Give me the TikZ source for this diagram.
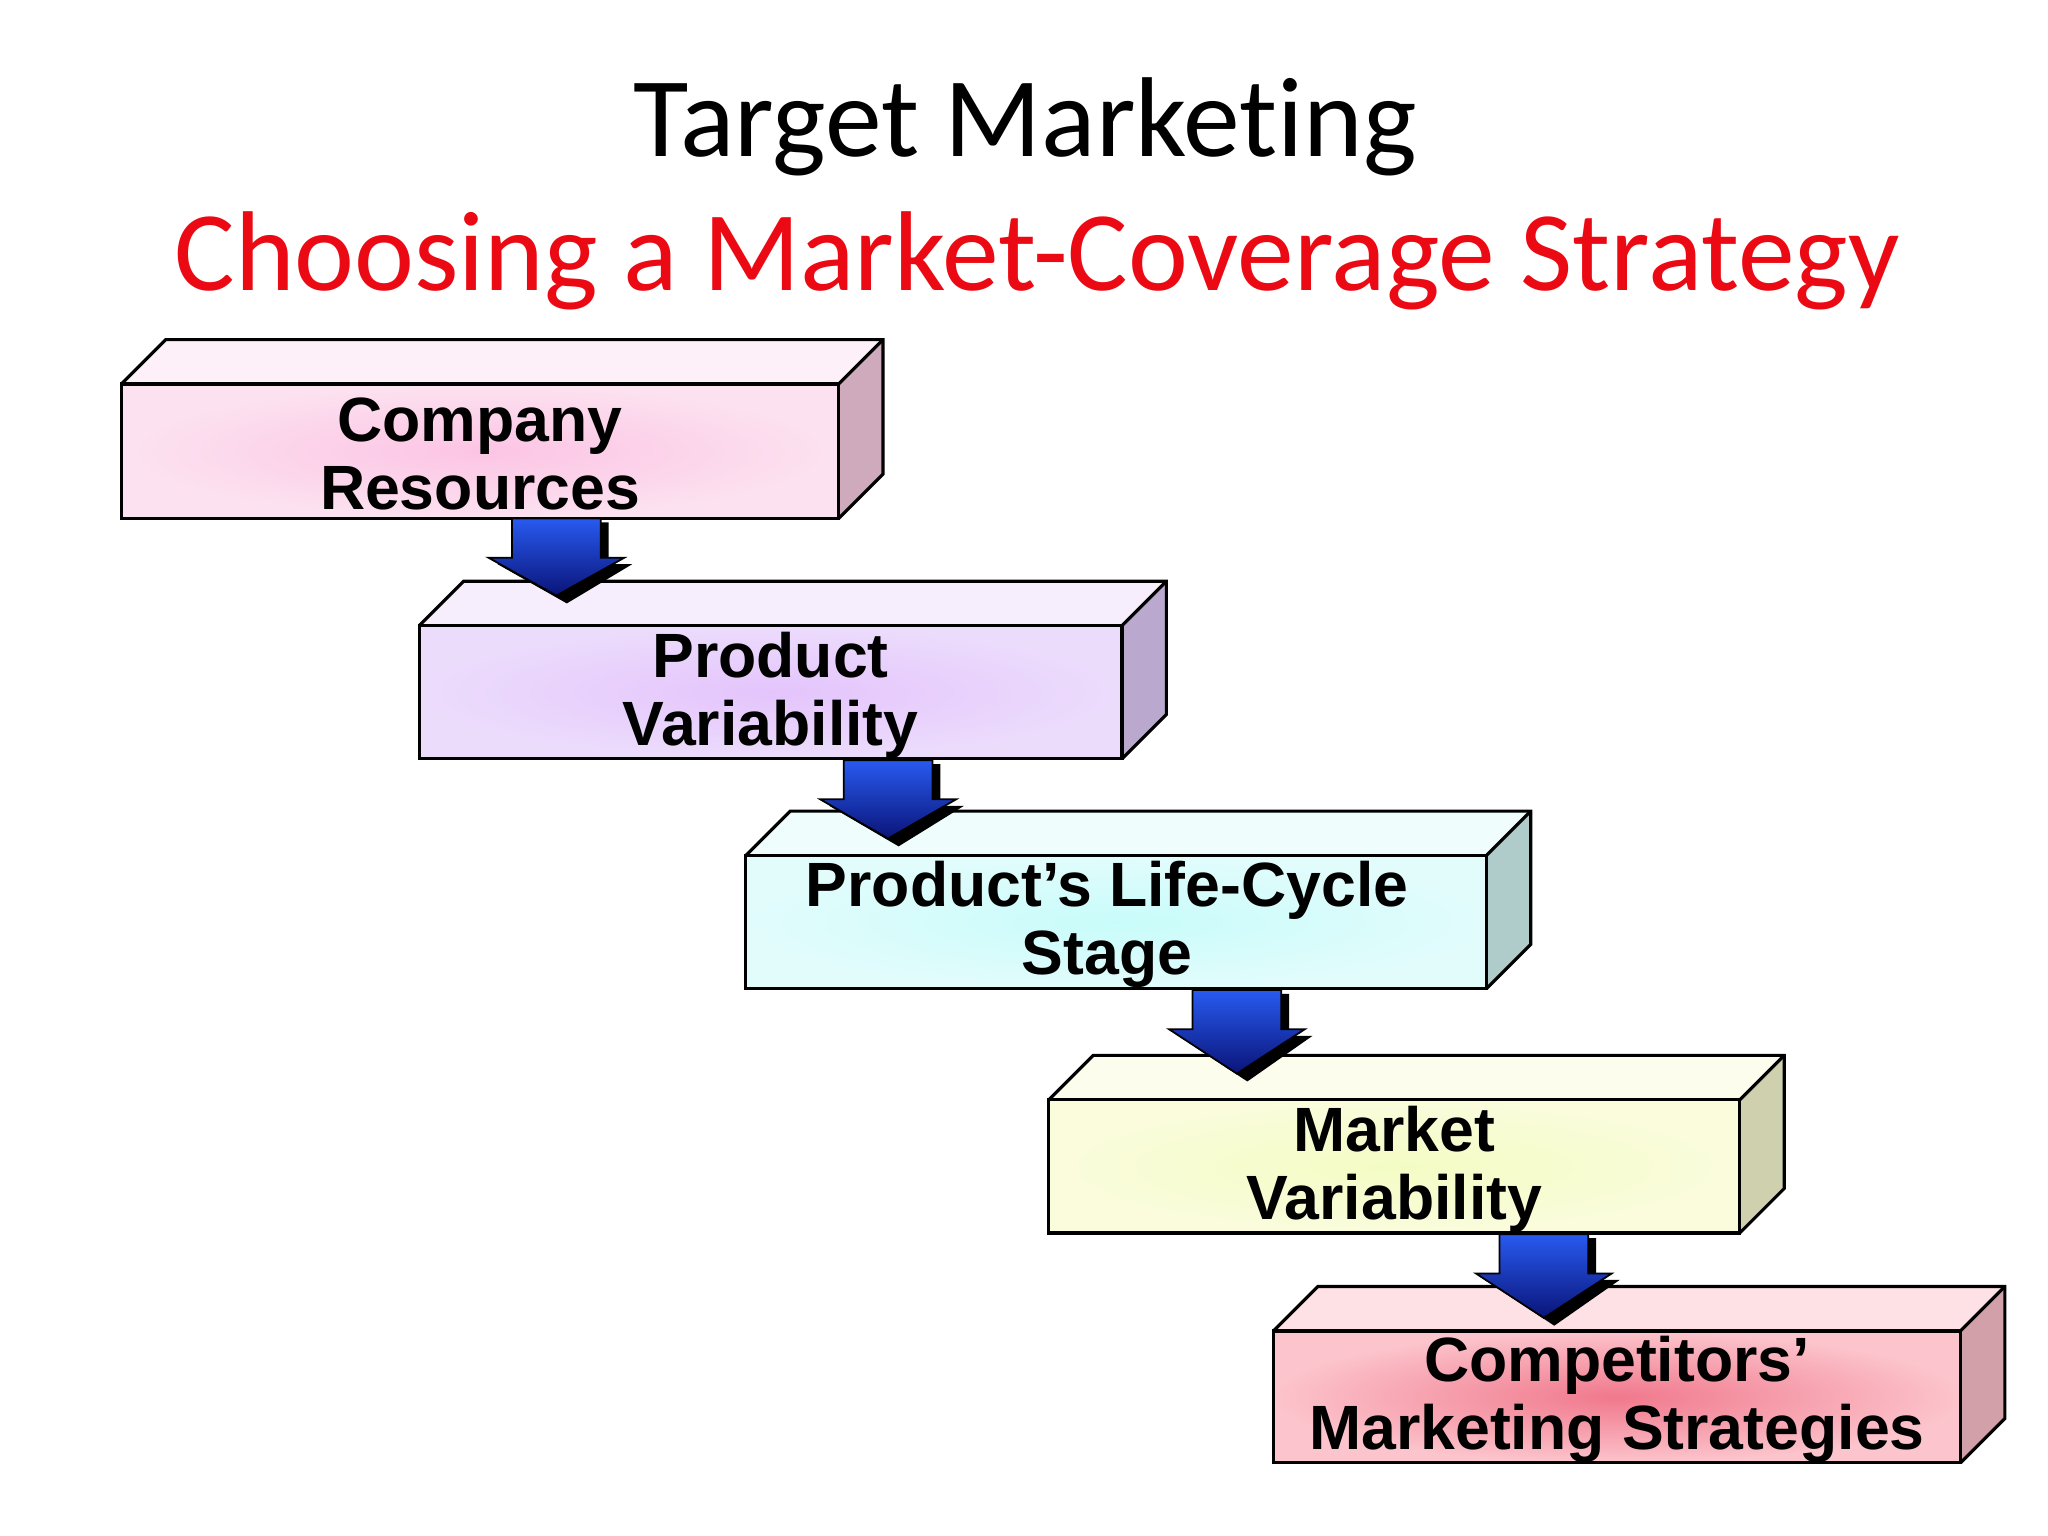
\documentclass[tikz,border=0pt]{standalone}
\usepackage{fontspec}
\setmainfont[Ligatures=NoCommon]{Carlito}
\newfontfamily\boxfont{Liberation Sans}
\definecolor{ttred}{RGB}{235,10,20}
\definecolor{ci1}{RGB}{252,196,228}\definecolor{co1}{RGB}{252,226,240}\definecolor{cs1}{RGB}{206,170,188}
\definecolor{ci2}{RGB}{228,196,252}\definecolor{co2}{RGB}{236,220,252}\definecolor{cs2}{RGB}{186,168,206}
\definecolor{ci3}{RGB}{200,252,250}\definecolor{co3}{RGB}{226,252,252}\definecolor{cs3}{RGB}{176,204,202}
\definecolor{ci4}{RGB}{244,252,196}\definecolor{co4}{RGB}{250,252,220}\definecolor{cs4}{RGB}{206,208,174}
\definecolor{ci5}{RGB}{240,120,140}\definecolor{co5}{RGB}{252,196,204}\definecolor{cs5}{RGB}{210,160,168}
\definecolor{arrtop}{RGB}{40,90,240}\definecolor{arrbot}{RGB}{10,20,120}
\begin{document}
\begin{tikzpicture}[x=0.013061cm,y=-0.013061cm,
  boxtxt/.style={font=\boxfont\fontsize{17.8}{17.8}\bfseries,align=center,text=black,inner sep=0pt,
    execute at begin node={\setlength{\baselineskip}{0.68cm}}},
  edge/.style={draw=black,line width=0.9pt}]
\useasboundingbox (0,0) rectangle (1568,1176);
\node[font=\fontsize{32.3}{32.3}\selectfont] (t1) at (785,97) {Target Marketing};
\node[font=\fontsize{32.3}{32.3}\selectfont,text=ttred] (t2) at (794,200) {Choosing a Market-Coverage Strategy};
\foreach \n/\xa/\ya/\xb/\yb in {1/93/294/642/397, 2/321/479/859/581, 3/571/655/1138/757, 4/803/842/1332/944, 5/975/1019/1501/1120}{
  \fill[cs\n] (\xb,\ya) -- (\xb+34,\ya-34) -- (\xb+34,\yb-34) -- (\xb,\yb) -- cycle;
  \fill[white!50!co\n] (\xa,\ya) -- (\xa+34,\ya-34) -- (\xb+34,\ya-34) -- (\xb,\ya) -- cycle;
  \shade[inner color=ci\n,outer color=co\n] (\xa,\ya) rectangle (\xb,\yb);
  \draw[edge] (\xa,\ya) rectangle (\xb,\yb);
  \draw[edge] (\xa,\ya) -- (\xa+34,\ya-34) -- (\xb+34,\ya-34) -- (\xb+34,\yb-34) -- (\xb,\yb);
  \draw[edge] (\xb,\ya) -- (\xb+34,\ya-34);
  \coordinate (b\n) at ({(\xa+\xb)/2},{(\ya+\yb)/2+2});
}
\node[boxtxt] (n1) at (b1) {Company\\Resources};
\node[boxtxt] (n2) at (b2) {Product\\Variability};
\node[boxtxt] (n3) at ([xshift=-0.09cm]b3) {Product’s Life-Cycle\\Stage};
\node[boxtxt] (n4) at (b4) {Market\\Variability};
\node[boxtxt] (n5) at (b5) {Competitors’\\Marketing Strategies};
\foreach \c/\t/\b in {426/397/462, 680/582/648, 947/758/828, 1182/945/1015}{
  \fill[black] (\c-28,\t+3) -- (\c+40,\t+3) -- (\c+40,\t+35) -- (\c+58,\t+35) -- (\c+8,\b) -- (\c-45,\t+35) -- (\c-28,\t+35) -- cycle;
  \shade[top color=arrtop,bottom color=arrbot,draw=black,line width=0.5pt]
    (\c-34,\t) -- (\c+34,\t) -- (\c+34,\t+30) -- (\c+52,\t+30) -- (\c,\b-6) -- (\c-52,\t+30) -- (\c-34,\t+30) -- cycle;
}
\end{tikzpicture}
\end{document}
